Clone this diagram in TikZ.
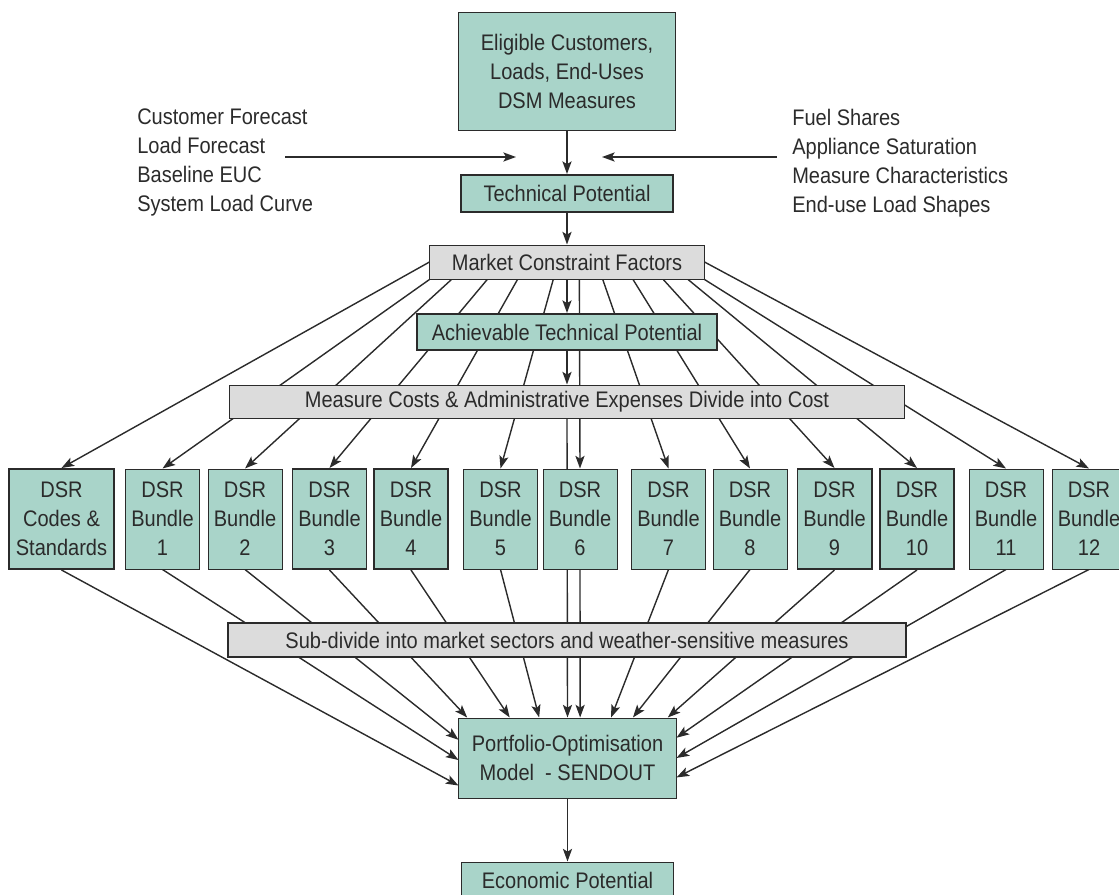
\documentclass[tikz,border=0pt]{standalone}
\usepackage{fontspec}
\setmainfont[FakeStretch=0.89]{Liberation Sans}
\usetikzlibrary{arrows.meta,calc,backgrounds}
\definecolor{boxteal}{HTML}{A9D4C9}
\definecolor{boxgrey}{HTML}{DCDCDC}
\definecolor{ink}{HTML}{2B2B2B}
\begin{document}
\begin{tikzpicture}[x=0.025cm,y=-0.025cm,
        font=\fontsize{16}{20.6}\selectfont,text=ink,
        tealbox/.style={draw=ink,line width=0.7pt,fill=boxteal,align=center,inner sep=2pt},
        greybox/.style={draw=ink,line width=0.7pt,fill=boxgrey,align=center,inner sep=2pt},
        heavy/.style={line width=1.4pt},
        arr/.style={draw=ink,line width=1pt,-{Stealth[length=9pt,width=6.5pt,inset=2pt]}}]
        \useasboundingbox (0,0) rectangle (1119,895);
        % main column
            \node[tealbox,minimum width=5.4cm,minimum height=2.925cm] (elig) at (567,71.5) {Eligible Customers,\\Loads, End-Uses\\DSM Measures};
            \node[tealbox,heavy,minimum width=5.3cm,minimum height=0.925cm] (tech) at (567,193.5) {Technical Potential};
            \node[greybox,minimum width=6.85cm,minimum height=0.85cm] (mcf) at (567,262) {Market Constraint Factors};
            \node[tealbox,heavy,minimum width=7.5cm,minimum height=0.9cm] (atp) at (567,332) {Achievable Technical Potential};
            \node[greybox,minimum width=16.875cm,minimum height=0.825cm] (mc) at (567,401.5) {Measure Costs \& Administrative Expenses Divide into Cost};
            \node[greybox,heavy,minimum width=16.95cm,minimum height=0.85cm] (sub) at (567,640) {Sub-divide into market sectors and weather-sensitive measures};
            \node[tealbox,minimum width=5.425cm,minimum height=2cm] (port) at (567.5,758) {Portfolio-Optimisation\\Model\ \ - SENDOUT};
            \node[tealbox,minimum width=5.3cm,minimum height=0.9cm] (econ) at (567.5,880) {Economic Potential};
        % inputs
            \node[anchor=north west,align=left,inner sep=0pt] (left) at (137,109) {Customer Forecast\\Load Forecast\\Baseline EUC\\System Load Curve};
            \node[anchor=north west,align=left,inner sep=0pt] (right) at (792,109) {Fuel Shares\\Appliance Saturation\\Measure Characteristics\\End-use Load Shapes};
            \coordinate (lin) at (285,157);
            \coordinate (lout) at (516,157);
            \coordinate (rin) at (777,157);
            \coordinate (rout) at (602,157);
            \draw[arr] (lin) -- (lout);
            \draw[arr] (rin) -- (rout);
        % bundles
            \node[tealbox,heavy,minimum width=2.625cm,minimum height=2.5cm] (b0) at (61.5,519) {DSR\\Codes \&\\Standards};
            \foreach \i/\x/\w in {1/162.5/0.7,2/245/0.7,3/329.5/1.4,4/411/1.4,5/500.5/0.7,6/580/0.7,7/668.5/0.7,8/750/0.7,9/834.5/1.4,10/917/1.4,11/1006/0.7,12/1089/0.7}{
                \node[tealbox,line width=\w pt,minimum width=1.85cm,minimum height=2.5cm] (b\i) at (\x,519) {DSR\\Bundle\\\i};
            }
        % flow down the column
            \draw[arr] (elig) -- (tech);
            \draw[arr] (tech) -- (mcf);
            \draw[arr] (mcf) -- (atp);
            \draw[arr] (atp) -- (mc);
            \draw[arr] (port) -- (econ);
        % fan out and back in, behind the boxes
            \begin{scope}[on background layer]
                \draw[arr] (mcf.west) -- (b0.north);
                \draw[arr] (mcf.south west) -- (b1.north);
                \foreach \i/\f in {2/0.08,3/0.21,4/0.32,5/0.45,6/0.545,7/0.63,8/0.74,9/0.85,10/0.94}{
                    \draw[arr] ($(mcf.south west)!\f!(mcf.south east)$) -- (b\i.north);
                }
                \draw[arr] (mcf.south east) -- (b11.north);
                \draw[arr] (mcf.east) -- (b12.north);
                \foreach \i/\f in {0/0.84,1/0.525,2/0.275}{
                    \draw[arr] (b\i.south) -- ($(port.north west)!\f!(port.south west)$);
                }
                \foreach \i/\f in {3/0.04,4/0.235,5/0.37,6/0.558,7/0.7,8/0.8,9/0.96}{
                    \draw[arr] (b\i.south) -- ($(port.north west)!\f!(port.north east)$);
                }
                \foreach \i/\f in {10/0.25,11/0.5,12/0.74}{
                    \draw[arr] (b\i.south) -- ($(port.north east)!\f!(port.south east)$);
                }
                \draw[arr] (mc.south) -- (port.north);
            \end{scope}
\end{tikzpicture}
\end{document}
